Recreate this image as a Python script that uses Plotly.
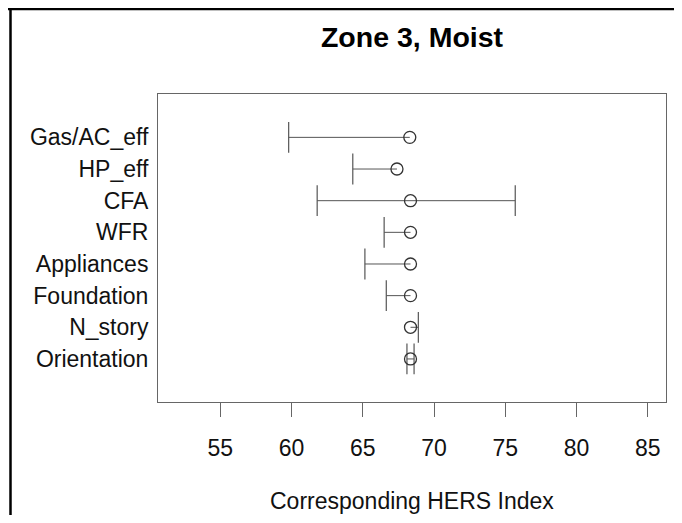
import plotly.graph_objects as go

categories = ["Gas/AC_eff", "HP_eff", "CFA", "WFR", "Appliances", "Foundation", "N_story", "Orientation"]
base_vals = [68.3, 67.4, 68.35, 68.35, 68.35, 68.35, 68.35, 68.35]
low_vals = [59.8, 64.3, 61.8, 66.5, 65.15, 66.65, 68.35, 68.1]
high_vals = [68.3, 67.4, 75.7, 68.35, 68.35, 68.35, 68.9, 68.6]
x_ticks = [55, 60, 65, 70, 75, 80, 85]

# the page adds an 8px body margin; keep the figure inside the window
OFF = 8
W, H = 682 - 2 * OFF, 523 - 2 * OFF
L, T = 158 - OFF, 94 - OFF
R = W - (666 - OFF)
B = H - (402 - OFF)
pw, ph = W - L - R, H - T - B

n = len(categories)
ypos = [n - i for i in range(n)]

seg_x, seg_y = [], []
cap_x, cap_y = [], []
for lo, hi, b, y in zip(low_vals, high_vals, base_vals, ypos):
    seg_x += [lo, hi, None]
    seg_y += [y, y, None]
    if lo < b:
        cap_x.append(lo); cap_y.append(y)
    if hi > b:
        cap_x.append(hi); cap_y.append(y)

fig = go.Figure()
fig.add_trace(go.Scatter(x=seg_x, y=seg_y, mode="lines",
                         line=dict(color="#555555", width=1), hoverinfo="skip", showlegend=False))
fig.add_trace(go.Scatter(x=cap_x, y=cap_y, mode="markers",
                         marker=dict(symbol="line-ns", size=22, line=dict(color="#555555", width=1.2)),
                         hoverinfo="skip", showlegend=False))
fig.add_trace(go.Scatter(x=base_vals, y=ypos, mode="markers",
                         marker=dict(symbol="circle-open", size=12, color="#333333", line=dict(width=1.3, color="#333333")),
                         showlegend=False))

def px_x(p):
    return (p - OFF - L) / pw

def px_y(p):
    return (H - B - (p - OFF)) / ph

fig.update_layout(
    width=W, height=H,
    margin=dict(l=L, r=R, t=T, b=B),
    paper_bgcolor="white", plot_bgcolor="white",
    font=dict(family="Liberation Sans, Arial, sans-serif", size=23, color="#111111"),
    title=dict(text="<b>Zone 3, Moist</b>", x=0.5, xref="paper", xanchor="center",
               y=1 - (37 - OFF) / H, yref="container", yanchor="middle",
               font=dict(size=28.5, color="#000000")),
    xaxis=dict(range=[50.63, 86.28], tickvals=x_ticks, ticktext=[str(v) for v in x_ticks],
               showgrid=False, zeroline=False, showline=True, mirror=True,
               linecolor="#666666", linewidth=1, ticks="outside", ticklen=14,
               tickcolor="#666666", tickwidth=1, ticklabelstandoff=11,
               tickfont=dict(size=23)),
    yaxis=dict(range=[-0.36, 9.37], tickvals=ypos, ticktext=categories,
               showgrid=False, zeroline=False, showline=True, mirror=True,
               linecolor="#666666", linewidth=1, ticks="", ticklabelstandoff=4),
    annotations=[dict(text="Corresponding HERS Index", xref="paper", yref="paper",
                      x=0.5, y=px_y(501), xanchor="center", yanchor="middle",
                      showarrow=False, font=dict(size=23, color="#111111"))],
    shapes=[
        dict(type="line", xref="paper", yref="paper", x0=px_x(0), x1=px_x(674), y0=px_y(9), y1=px_y(9),
             line=dict(color="black", width=2.5)),
        dict(type="line", xref="paper", yref="paper", x0=px_x(10.5), x1=px_x(10.5), y0=px_y(8), y1=px_y(515),
             line=dict(color="black", width=2.5)),
    ],
)

fig.write_html("out.html", config={"displayModeBar": False})
